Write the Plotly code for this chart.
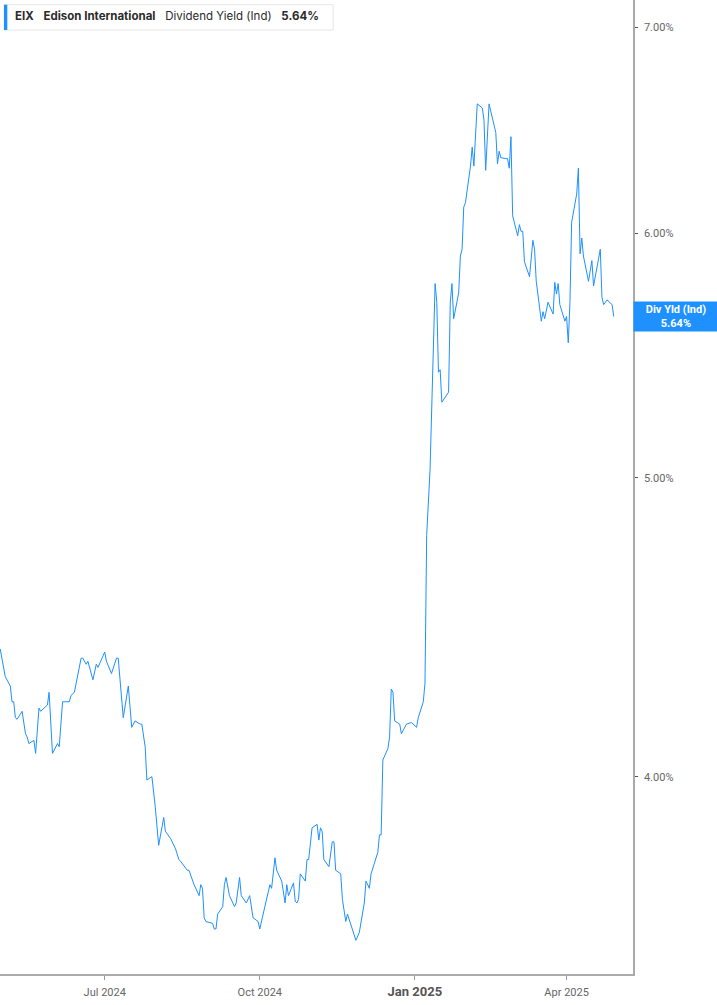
import numpy as np
import plotly.graph_objects as go

# EIX indicated dividend yield (%)
dates = [
    "2024-04-30", "2024-05-02", "2024-05-03", "2024-05-06", "2024-05-07", "2024-05-08",
    "2024-05-09", "2024-05-10", "2024-05-13", "2024-05-15", "2024-05-16", "2024-05-17",
    "2024-05-20", "2024-05-21", "2024-05-23", "2024-05-24", "2024-05-28", "2024-05-29",
    "2024-05-31", "2024-06-03", "2024-06-04", "2024-06-06", "2024-06-10", "2024-06-11",
    "2024-06-13", "2024-06-17", "2024-06-18", "2024-06-20", "2024-06-21", "2024-06-24",
    "2024-06-26", "2024-06-27", "2024-07-01", "2024-07-02", "2024-07-05", "2024-07-08",
    "2024-07-09", "2024-07-12", "2024-07-15", "2024-07-17", "2024-07-19", "2024-07-22",
    "2024-07-23", "2024-07-25", "2024-07-26", "2024-07-29", "2024-07-31", "2024-08-02",
    "2024-08-05", "2024-08-06", "2024-08-09", "2024-08-12", "2024-08-14", "2024-08-15",
    "2024-08-19", "2024-08-20", "2024-08-23", "2024-08-26", "2024-08-27", "2024-08-28",
    "2024-08-29", "2024-08-30", "2024-09-03", "2024-09-04", "2024-09-05", "2024-09-06",
    "2024-09-09", "2024-09-10", "2024-09-11", "2024-09-13", "2024-09-16", "2024-09-17",
    "2024-09-19", "2024-09-20", "2024-09-23", "2024-09-25", "2024-09-27", "2024-09-30",
    "2024-10-01", "2024-10-03", "2024-10-07", "2024-10-08", "2024-10-10", "2024-10-11",
    "2024-10-14", "2024-10-16", "2024-10-17", "2024-10-18", "2024-10-21", "2024-10-22",
    "2024-10-23", "2024-10-24", "2024-10-25", "2024-10-28", "2024-10-29", "2024-10-30",
    "2024-11-01", "2024-11-04", "2024-11-05", "2024-11-06", "2024-11-07", "2024-11-08",
    "2024-11-11", "2024-11-13", "2024-11-14", "2024-11-15", "2024-11-18", "2024-11-19",
    "2024-11-21", "2024-11-22", "2024-11-25", "2024-11-27", "2024-11-29", "2024-12-02",
    "2024-12-03", "2024-12-05", "2024-12-06", "2024-12-10", "2024-12-11", "2024-12-12",
    "2024-12-13", "2024-12-16", "2024-12-17", "2024-12-18", "2024-12-19", "2024-12-20",
    "2024-12-23", "2024-12-24", "2024-12-27", "2024-12-30", "2025-01-02", "2025-01-03",
    "2025-01-06", "2025-01-07", "2025-01-08", "2025-01-10", "2025-01-13", "2025-01-14",
    "2025-01-15", "2025-01-16", "2025-01-17", "2025-01-21", "2025-01-22", "2025-01-23",
    "2025-01-24", "2025-01-27", "2025-01-28", "2025-01-29", "2025-01-30", "2025-01-31",
    "2025-02-03", "2025-02-04", "2025-02-05", "2025-02-07", "2025-02-10", "2025-02-11",
    "2025-02-12", "2025-02-14", "2025-02-18", "2025-02-19", "2025-02-20", "2025-02-21",
    "2025-02-24", "2025-02-25", "2025-02-26", "2025-02-27", "2025-02-28", "2025-03-03",
    "2025-03-04", "2025-03-05", "2025-03-06", "2025-03-07", "2025-03-10", "2025-03-12",
    "2025-03-13", "2025-03-14", "2025-03-17", "2025-03-18", "2025-03-19", "2025-03-21",
    "2025-03-24", "2025-03-25", "2025-03-26", "2025-03-27", "2025-03-28", "2025-03-31",
    "2025-04-01", "2025-04-02", "2025-04-03", "2025-04-04", "2025-04-07", "2025-04-08",
    "2025-04-09", "2025-04-10", "2025-04-11", "2025-04-14", "2025-04-16", "2025-04-17",
    "2025-04-21", "2025-04-22", "2025-04-23", "2025-04-25", "2025-04-28", "2025-04-29",
]
div_yield = [
    4.40, 4.34, 4.31, 4.28, 4.23, 4.23,
    4.18, 4.175, 4.20, 4.13, 4.12, 4.10,
    4.11, 4.07, 4.21, 4.20, 4.22, 4.26,
    4.07, 4.10, 4.09, 4.23, 4.23, 4.25,
    4.26, 4.37, 4.37, 4.35, 4.36, 4.30,
    4.35, 4.34, 4.39, 4.36, 4.32, 4.37,
    4.37, 4.18, 4.28, 4.15, 4.17, 4.16,
    4.16, 4.09, 3.99, 4.00, 3.91, 3.80,
    3.88, 3.84, 3.82, 3.79, 3.76, 3.755,
    3.73, 3.73, 3.69, 3.66, 3.69, 3.68,
    3.60, 3.59, 3.585, 3.57, 3.57, 3.61,
    3.63, 3.69, 3.71, 3.66, 3.63, 3.64,
    3.71, 3.66, 3.64, 3.66, 3.60, 3.59,
    3.57, 3.61, 3.69, 3.68, 3.765, 3.73,
    3.70, 3.64, 3.69, 3.66, 3.695, 3.645,
    3.64, 3.65, 3.72, 3.70, 3.76, 3.76,
    3.85, 3.86, 3.815, 3.85, 3.84, 3.76,
    3.74, 3.81, 3.81, 3.73, 3.72, 3.65,
    3.59, 3.61, 3.57, 3.54, 3.56, 3.64,
    3.70, 3.68, 3.72, 3.78, 3.83, 3.83,
    4.05, 4.085, 4.12, 4.27, 4.26, 4.17,
    4.16, 4.13, 4.16, 4.165, 4.15, 4.18,
    4.23, 4.29, 4.79, 5.03, 5.78, 5.70,
    5.41, 5.42, 5.29, 5.33, 5.70, 5.78,
    5.63, 5.74, 5.90, 5.93, 6.12, 6.14,
    6.31, 6.40, 6.31, 6.61, 6.59, 6.53,
    6.29, 6.61, 6.47, 6.32, 6.38, 6.35,
    6.345, 6.345, 6.30, 6.45, 6.08, 5.99,
    6.04, 6.01, 6.01, 5.875, 5.81, 5.97,
    5.93, 5.79, 5.62, 5.66, 5.63, 5.70,
    5.65, 5.785, 5.735, 5.78, 5.69, 5.62,
    5.64, 5.53, 5.70, 6.05, 6.18, 6.30,
    5.91, 5.98, 5.90, 5.79, 5.88, 5.77,
    5.93, 5.72, 5.69, 5.71, 5.69, 5.64,
]

ticker = "EIX"
company = "Edison International"
metric = "Dividend Yield (Ind)"
badge_label = "Div Yld (Ind)"

x_tick_dates = ["2024-07-01", "2024-10-01", "2025-01-01", "2025-04-01"]
x_tick_text = ["Jul 2024", "Oct 2024",
               "<span style='font-size:13px;color:#555'><b>Jan 2025</b></span>", "Apr 2025"]
y_ticks = [4, 5, 6, 7]
y_tick_text = ["4.00%", "5.00%", "6.00%", "7.00%"]

blue = "#1E90FF"
last = div_yield[-1]

# plot area size in px, used to place the header box
W, H = 632.7, 974.3

fig = go.Figure()
fig.add_trace(go.Scatter(
    x=dates, y=div_yield, mode="lines",
    line=dict(color=blue, width=1),
    hoverinfo="skip", showlegend=False,
))

fig.update_layout(
    width=717, height=1005,
    margin=dict(l=0, r=717 - W, t=0, b=1005 - H),
    paper_bgcolor="white", plot_bgcolor="white",
    font=dict(family="Roboto, Inter, sans-serif", color="#666", size=11),
    showlegend=False,
    xaxis=dict(
        type="date",
        range=["2024-04-29 21:00", "2025-05-10 09:36"],
        tickvals=x_tick_dates, ticktext=x_tick_text,
        ticks="outside", ticklen=4, tickcolor="#999", tickwidth=1,
        showline=True, linecolor="#aaaaaa", linewidth=1.5,
        showgrid=False, zeroline=False,
        tickfont=dict(size=11, color="#666"),
        ticklabelstandoff=3,
    ),
    yaxis=dict(
        type="log", side="right",
        range=[np.log10(3.452), np.log10(7.143)],
        tickvals=y_ticks, ticktext=y_tick_text,
        ticks="outside", ticklen=3, tickcolor="#555", tickwidth=1,
        showline=True, linecolor="#aaaaaa", linewidth=1.5,
        showgrid=False, zeroline=False,
        tickfont=dict(size=11, color="#666"),
        ticklabelstandoff=4,
    ),
)

# header box, top left
fig.add_shape(type="rect", xref="paper", yref="paper",
              x0=4 / W, x1=333 / W, y0=1 - 30 / H, y1=1 - 4.7 / H,
              fillcolor="white", line=dict(color="#e6e6e6", width=1), layer="above")
fig.add_shape(type="rect", xref="paper", yref="paper",
              x0=4 / W, x1=7.3 / W, y0=1 - 30 / H, y1=1 - 4.7 / H,
              fillcolor=blue, line=dict(width=0), layer="above")
sp = "\u00a0" * 3
fig.add_annotation(
    xref="paper", yref="paper", x=13 / W, y=1 - 16.5 / H,
    xanchor="left", yanchor="middle", showarrow=False,
    text=f"<b>{ticker}</b>{sp}<b>{company}</b>{sp}{metric}{sp}<b>{last:.2f}%</b>",
    font=dict(family="Inter, Roboto, sans-serif", size=11.5, color="#2b2b2b"),
)

# last value badge on the right axis
fig.add_annotation(
    xref="paper", yref="y", x=1, y=np.log10(last),
    xanchor="left", yanchor="middle", showarrow=False,
    text=f"<b>{badge_label}</b><br><b>{last:.2f}%</b>",
    font=dict(family="Roboto, Inter, sans-serif", size=11, color="white"),
    bgcolor=blue, width=80, height=25, borderpad=2, align="center",
)

# drop the page's default body margin so the figure sits at the window corner
fig.write_html("out.html", config={"displayModeBar": False},
               post_script="document.body.style.margin='0';")
